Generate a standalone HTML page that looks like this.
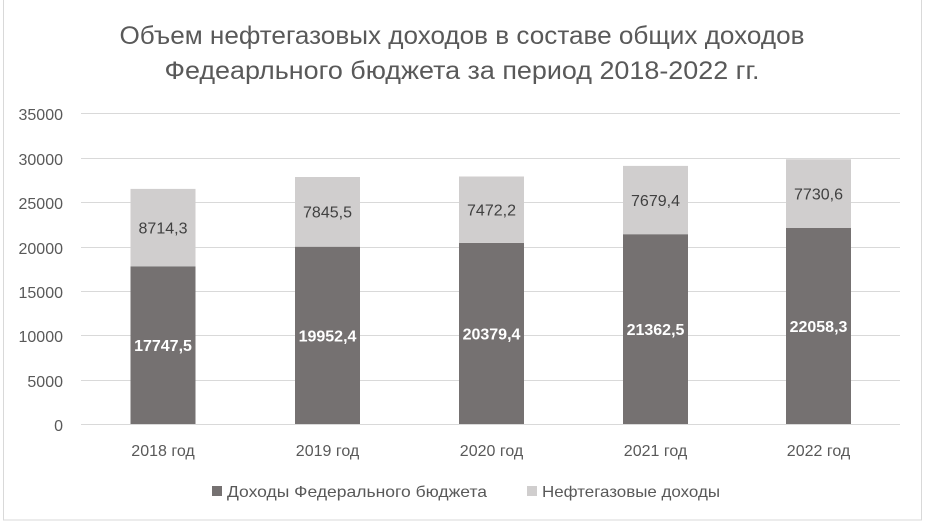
<!DOCTYPE html>
<html><head><meta charset="utf-8"><style>body{margin:0;background:#fff}svg{display:block}text{font-family:"Liberation Sans","DejaVu Sans",sans-serif}</style></head><body>
<svg width="925" height="523" viewBox="0 0 925 523" xmlns="http://www.w3.org/2000/svg">
<rect x="3.5" y="-1" width="918" height="521" fill="#fff" stroke="#d9d9d9"/>
<text x="462" y="44" font-size="25" fill="#595959" text-anchor="middle" textLength="685" lengthAdjust="spacingAndGlyphs">Объем нефтегазовых доходов в составе общих доходов</text>
<text x="462" y="79" font-size="25" fill="#595959" text-anchor="middle" textLength="595" lengthAdjust="spacingAndGlyphs">Федеарльного бюджета за период 2018-2022 гг.</text>
<g stroke="#d9d9d9" stroke-width="1">
<line x1="81" x2="900" y1="113.5" y2="113.5"/><line x1="81" x2="900" y1="158.5" y2="158.5"/>
<line x1="81" x2="900" y1="202.5" y2="202.5"/><line x1="81" x2="900" y1="247.5" y2="247.5"/>
<line x1="81" x2="900" y1="291.5" y2="291.5"/><line x1="81" x2="900" y1="335.5" y2="335.5"/>
<line x1="81" x2="900" y1="380.5" y2="380.5"/><line x1="81" x2="900" y1="424.5" y2="424.5"/>
</g>
<g font-size="16" fill="#595959" text-anchor="end">
<text x="63" y="120">35000</text><text x="63" y="165">30000</text><text x="63" y="209">25000</text>
<text x="63" y="254">20000</text><text x="63" y="298">15000</text><text x="63" y="342">10000</text>
<text x="63" y="387">5000</text><text x="63" y="431">0</text>
</g>
<g fill="#757171">
<rect x="130.5" y="266.3" width="65" height="157.7"/>
<rect x="295" y="246.7" width="65" height="177.3"/>
<rect x="459" y="242.9" width="65" height="181.1"/>
<rect x="623" y="234.2" width="65" height="189.8"/>
<rect x="786" y="228" width="65" height="196"/>
</g>
<g fill="#d0cece">
<rect x="130.5" y="188.9" width="65" height="77.4"/>
<rect x="295" y="177" width="65" height="69.7"/>
<rect x="459" y="176.5" width="65" height="66.4"/>
<rect x="623" y="165.9" width="65" height="68.3"/>
<rect x="786" y="159.3" width="65" height="68.7"/>
</g>
<g font-size="16" fill="#404040" text-anchor="middle">
<text x="163" y="233.5">8714,3</text><text x="327.5" y="217.5">7845,5</text><text x="491.5" y="215.5">7472,2</text>
<text x="655.5" y="206">7679,4</text><text x="818.5" y="199.5">7730,6</text>
</g>
<g font-size="16" fill="#fff" font-weight="bold" text-anchor="middle">
<text x="163" y="351">17747,5</text><text x="327.5" y="341.5">19952,4</text><text x="491.5" y="339.5">20379,4</text>
<text x="655.5" y="335">21362,5</text><text x="818.5" y="332">22058,3</text>
</g>
<g font-size="16" fill="#595959" text-anchor="middle">
<text x="163" y="456">2018 год</text><text x="327.5" y="456">2019 год</text><text x="491.5" y="456">2020 год</text>
<text x="655.5" y="456">2021 год</text><text x="818.5" y="456">2022 год</text>
</g>
<rect x="212" y="486" width="10" height="10" fill="#757171"/>
<text x="227" y="497" font-size="16" fill="#595959" textLength="260" lengthAdjust="spacingAndGlyphs">Доходы Федерального бюджета</text>
<rect x="527" y="486" width="10" height="10" fill="#d0cece"/>
<text x="542" y="497" font-size="16" fill="#595959" textLength="178" lengthAdjust="spacingAndGlyphs">Нефтегазовые доходы</text>
</svg>
</body></html>
